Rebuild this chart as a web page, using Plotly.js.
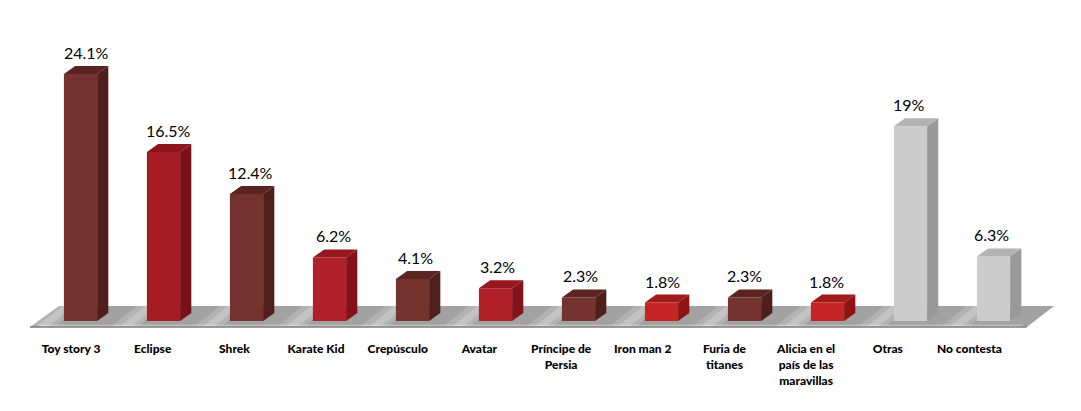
<!DOCTYPE html>
<html>
<head>
<meta charset="utf-8">
<script src="https://cdn.plot.ly/plotly-3.0.1.min.js"></script>
<style>html,body{margin:0;padding:0;background:#fff;}#chart{width:1081px;height:411px;}</style>
</head>
<body>
<div id="chart"></div>
<script>
// ---- data ----
const categories = ['Toy story 3','Eclipse','Shrek','Karate Kid','Crepúsculo','Avatar','Príncipe de<br>Persia','Iron man 2','Furia de<br>titanes','Alicia en el<br>país de las<br>maravillas','Otras','No contesta'];
const values = [24.1,16.5,12.4,6.2,4.1,3.2,2.3,1.8,2.3,1.8,19,6.3];
const valueLabels = ['24.1%','16.5%','12.4%','6.2%','4.1%','3.2%','2.3%','1.8%','2.3%','1.8%','19%','6.3%'];

// ---- styles ----
const frontColors = ['#74332F','#A51C24','#74332F','#B0202A','#74332F','#B01F28','#74332F','#C52424','#74332F','#C52424','#CCCCCC','#CCCCCC'];
const sideColors  = ['#4F1F1E','#7A1116','#4F1F1E','#831319','#4F1F1E','#831319','#4F1F1E','#8E1414','#4F1F1E','#8E1414','#999999','#999999'];
const topColors   = ['#5C2421','#8C151B','#5C2421','#96171E','#5C2421','#96171E','#5C2421','#A21A1A','#5C2421','#A21A1A','#B3B3B3','#B3B3B3'];

const idx = categories.map((_, i) => i);
const halfW = 0.2;      // half width of the front face (x units)
const depthX = 0.135;   // depth offset in x units
const depthY = 0.78;    // depth offset in y units

const traces = [{
  type: 'bar', x: idx, y: values, width: 2 * halfW,
  marker: {color: frontColors, line: {width: 0}},
  hoverinfo: 'skip', showlegend: false
}];

idx.forEach(i => {
  const v = values[i];
  traces.push({
    type: 'scatter', mode: 'lines', fill: 'toself', showlegend: false, hoverinfo: 'skip',
    x: [i + halfW, i + halfW + depthX, i + halfW + depthX, i + halfW, i + halfW],
    y: [0, depthY, v + depthY, v, 0],
    line: {width: 0}, fillcolor: sideColors[i]
  });
  traces.push({
    type: 'scatter', mode: 'lines', fill: 'toself', showlegend: false, hoverinfo: 'skip',
    x: [i - halfW, i + halfW, i + halfW + depthX, i - halfW + depthX, i - halfW],
    y: [v, v, v + depthY, v + depthY, v],
    line: {width: 0}, fillcolor: topColors[i]
  });
});

const annotations = idx.map(i => ({
  x: i + 0.07 - 0.0085 * i, y: values[i] + depthY,
  xref: 'x', yref: 'y', yanchor: 'bottom', yshift: 2,
  text: valueLabels[i], showarrow: false,
  font: {family: 'Lato, "Open Sans", sans-serif', size: 16, color: '#000'}
}));

const n = categories.length;
const yF = -0.59, yB = 1.47;
const floorPath = `M ${-0.609},${yF} L ${n - 0.6},${yF} L ${n - 0.27},${yB} L ${-0.259},${yB} Z`;

const shapes = [
  {type: 'path', xref: 'x', yref: 'y', path: floorPath, layer: 'below',
   fillcolor: '#A2A2A2', line: {width: 0}}
];
// soft light reflections on the floor, one per gap between bars
for (let i = 0; i < n; i++) {
  const a = i - 0.62, b = i - 0.3;
  shapes.push({type: 'path', xref: 'x', yref: 'y', layer: 'below', line: {width: 0},
    fillcolor: 'rgba(255,255,255,0.18)',
    path: `M ${a},${yF + 0.1} L ${b},${yF + 0.1} L ${b + 0.3},${yB} L ${a + 0.3},${yB} Z`});
  shapes.push({type: 'path', xref: 'x', yref: 'y', layer: 'below', line: {width: 0},
    fillcolor: 'rgba(255,255,255,0.22)',
    path: `M ${a + 0.1},${yF + 0.1} L ${b - 0.08},${yF + 0.1} L ${b + 0.22},${yB} L ${a + 0.4},${yB} Z`});
}
// front edge of the floor
shapes.push({type: 'line', xref: 'x', yref: 'y', x0: -0.609, x1: n - 0.6, y0: yF, y1: yF, layer: 'below',
  line: {color: '#7C7C7C', width: 1.5}});
shapes.push({type: 'line', xref: 'x', yref: 'y', x0: -0.5, x1: n - 0.65, y0: yF + 0.15, y1: yF + 0.15, layer: 'below',
  line: {color: 'rgba(255,255,255,0.35)', width: 1.5}});

const layout = {
  width: 1081, height: 411,
  margin: {l: 20, r: 20, t: 20, b: 82},
  paper_bgcolor: '#fff', plot_bgcolor: '#fff',
  showlegend: false,
  xaxis: {
    range: [-0.729, 11.813], showgrid: false, zeroline: false, showline: false,
    tickmode: 'array', tickvals: idx.map(i => i * 0.984 - 0.114), ticktext: categories,
    ticks: 'outside', ticklen: 9, tickcolor: 'rgba(0,0,0,0)', tickangle: 0,
    tickfont: {family: 'Lato, sans-serif', size: 12, color: '#000', weight: 900},
    fixedrange: true
  },
  yaxis: {range: [-0.78, 29.37], visible: false, fixedrange: true},
  shapes: shapes,
  annotations: annotations
};

Plotly.newPlot('chart', traces, layout, {staticPlot: true});
</script>
</body>
</html>
